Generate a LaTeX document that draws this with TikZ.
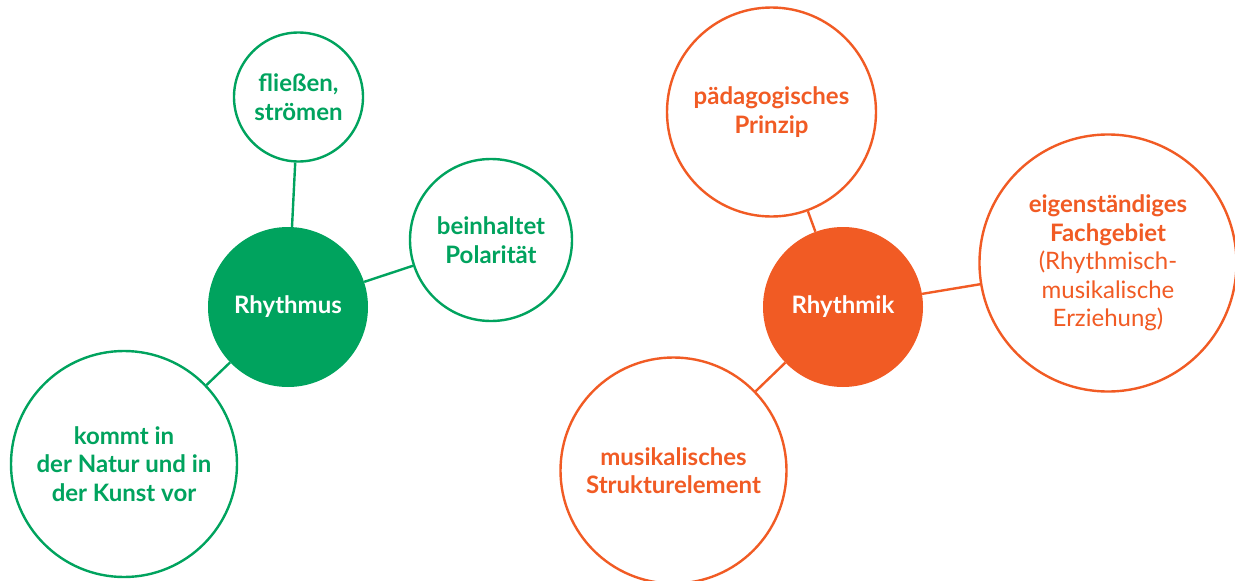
\documentclass[tikz,border=0pt]{standalone}
\usepackage{fontspec}
\setmainfont{Lato}
\definecolor{rgreen}{RGB}{0,163,94}
\definecolor{rorange}{RGB}{241,91,36}
\begin{document}
\begin{tikzpicture}[x=1pt,y=-1pt,
  bubble/.style={circle,draw,line width=2.4pt,fill=white,inner sep=0pt,align=center,
    font=\fontsize{24}{28.5}\selectfont\bfseries},
  hub/.style={circle,inner sep=0pt,align=center,text=white,
    font=\fontsize{24}{28.5}\selectfont\bfseries},
  greenb/.style={bubble,draw=rgreen,text=rgreen},
  orangeb/.style={bubble,draw=rorange,text=rorange},
  link/.style={line width=2.4pt}]
\useasboundingbox (0,0) rectangle (1235,581);

% Rhythmus cluster
\node[hub,fill=rgreen,minimum size=160pt] (rhythmus) at (288,307) {Rhythmus};
\node[greenb,minimum size=129pt] (fliessen) at (298.5,97) {fließen,\\strömen};
\node[greenb,minimum size=162pt] (polar) at (491,240) {beinhaltet\\Polarität};
\node[greenb,minimum size=226pt] (natur) at (124,464) {kommt in\\der Natur und in\\der Kunst vor};
\draw[link,rgreen] (rhythmus) -- (fliessen);
\draw[link,rgreen] (rhythmus) -- (polar);
\draw[link,rgreen] (rhythmus) -- (natur);

% Rhythmik cluster
\node[hub,fill=rorange,minimum size=160pt] (rhythmik) at (843,307) {Rhythmik};
\node[orangeb,minimum size=209pt] (prinzip) at (771.5,112) {pädagogisches\\Prinzip};
\node[orangeb,minimum size=257pt] (fach) at (1108,263) {eigenständiges\\Fachgebiet\\{\mdseries(Rhythmisch-}\\{\mdseries musikalische}\\{\mdseries Erziehung)}};
\node[orangeb,minimum size=226pt] (struktur) at (673.5,470.5) {musikalisches\\Strukturelement};
\draw[link,rorange] (rhythmik) -- (prinzip);
\draw[link,rorange] (rhythmik) -- (fach);
\draw[link,rorange] (rhythmik) -- (struktur);
\end{tikzpicture}
\end{document}
